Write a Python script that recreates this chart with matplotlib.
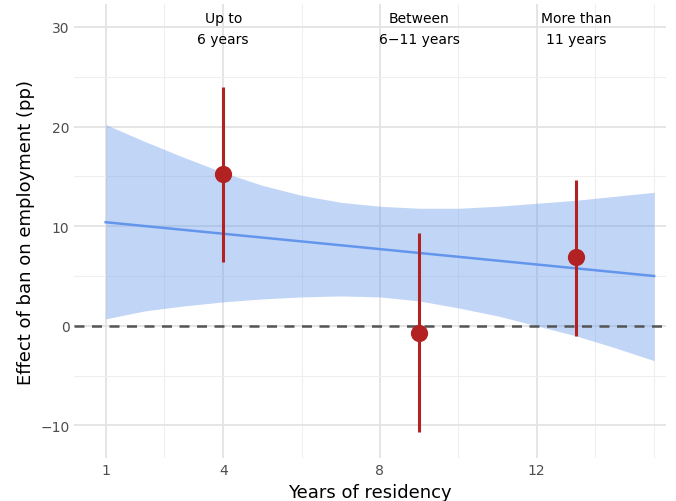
import numpy as np
import matplotlib.pyplot as plt

# fitted line and ribbon
line_x = [1, 15]
line_y = [10.4, 5.0]
band_x = [1, 2, 3, 4, 5, 6, 7, 8, 9, 10, 11, 12, 13, 14, 15]
band_hi = [20.2, 18.5, 16.9, 15.4, 14.1, 13.1, 12.4, 12.0, 11.8, 11.8, 12.0, 12.3, 12.6, 13.0, 13.4]
band_lo = [0.7, 1.5, 2.0, 2.4, 2.7, 2.9, 3.0, 2.9, 2.5, 1.8, 1.0, 0.0, -1.0, -2.2, -3.5]

# group estimates
pt_x = [4, 9, 13.0]
pt_y = [15.2, -0.7, 6.9]
pt_lo = [6.4, -10.7, -1.0]
pt_hi = [24.0, 9.3, 14.6]
labels = ["Up to\n6 years", "Between\n6\u221211 years", "More than\n11 years"]

fig = plt.figure(figsize=(6.76, 5.02), dpi=100)
ax = fig.add_axes([0.11, 0.085, 0.875, 0.905])

ax.fill_between(band_x, band_lo, band_hi, color="#6d9eeb", alpha=0.42, lw=0, zorder=2)
ax.plot(line_x, line_y, color="#6495ed", lw=1.8, zorder=3)
ax.axhline(0, color="#555555", lw=1.8, ls=(0, (4, 3)), zorder=3)
ax.vlines(pt_x, pt_lo, pt_hi, color="#b22222", lw=2.2, zorder=4)
ax.scatter(pt_x, pt_y, s=130, color="#b22222", zorder=5)
for x, t in zip(pt_x, labels):
    ax.text(x, 31.6, t, ha="center", va="top", fontsize=10, linespacing=1.6)

ax.set_xlim(0.2, 15.3)
ax.set_ylim(-13.3, 32.3)
ax.set_xticks([1, 4, 8, 12])
ax.set_yticks([-10, 0, 10, 20, 30])
ax.set_xticks([2.5, 6, 10, 13.5, 15], minor=True)
ax.set_yticks([-5, 5, 15, 25], minor=True)
ax.grid(which="major", color="#e3e3e3", lw=1.3, zorder=0)
ax.grid(which="minor", color="#efefef", lw=0.8, zorder=0)
ax.tick_params(which="both", length=0, labelsize=10, labelcolor="#4d4d4d")
for s in ax.spines.values():
    s.set_visible(False)
ax.set_xlabel("Years of residency", fontsize=13, labelpad=4)
ax.set_ylabel("Effect of ban on employment (pp)", fontsize=13)

fig.savefig("out.png", dpi=100)
